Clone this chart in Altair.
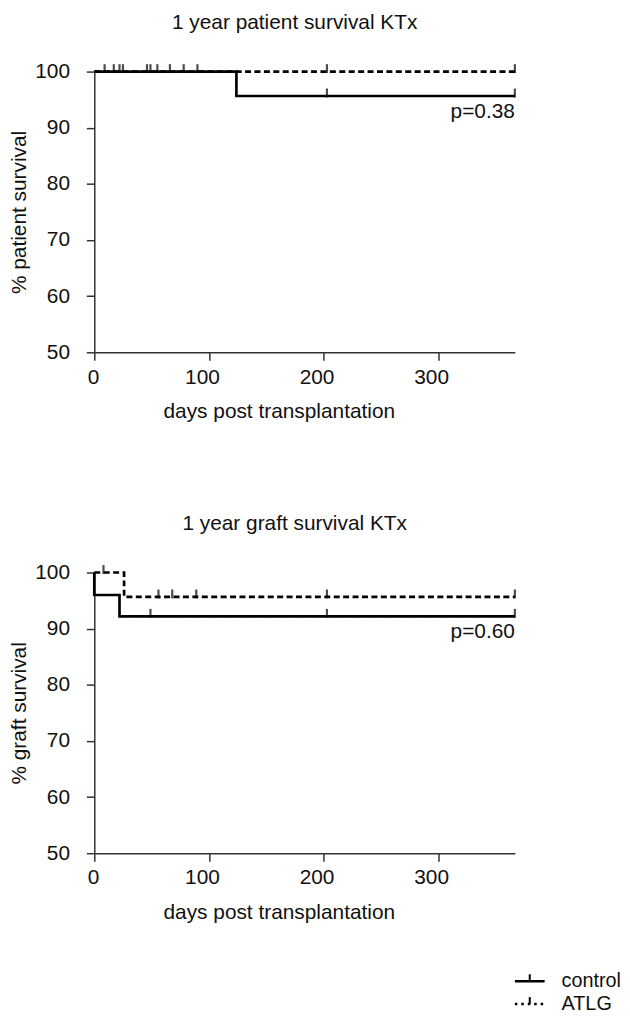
import altair as alt
import pandas as pd

FONT = "Liberation Sans"
groups = ["control", "ATLG"]

# x / y axis ticks
x_ticks = [0, 100, 200, 300]
y_ticks = [50, 60, 70, 80, 90, 100]
x_max = 367

# 1 year patient survival (Kaplan-Meier steps)
pat_control_days = [0, 124, 367]
pat_control_surv = [100, 95.65, 95.65]
pat_atlg_days = [0, 367]
pat_atlg_surv = [100, 100]
pat_control_cens = [17, 22, 46, 49, 203, 367]
pat_atlg_cens = [9, 25, 55, 66, 78, 90, 203, 367]
pat_p = "p=0.38"

# 1 year graft survival
graft_control_days = [0, 0, 22, 367]
graft_control_surv = [100, 96.0, 92.2, 92.2]
graft_atlg_days = [0, 26, 367]
graft_atlg_surv = [100, 95.65, 95.65]
graft_control_cens = [49, 203, 367]
graft_atlg_cens = [8, 56, 68, 89, 203, 367]
graft_p = "p=0.60"

W, H = 424, 283


def surv_at(days, surv, t):
    v = surv[0]
    for d, s in zip(days, surv):
        if d <= t:
            v = s
    return v


def panel(title, ytitle, cd, cs, ad, as_, cc, ac, ptext, p_y, legend=False):
    lines = []
    for g, dd, ss in (("control", cd, cs), ("ATLG", ad, as_)):
        for i, (d, s) in enumerate(zip(dd, ss)):
            lines.append({"group": g, "day": d, "surv": s, "i": i})
    cens = []
    for g, dd, ss, cl in (("control", cd, cs, cc), ("ATLG", ad, as_, ac)):
        for t in cl:
            cens.append({"group": g, "day": t, "surv": surv_at(dd, ss, t)})
    df_l = pd.DataFrame(lines)
    df_c = pd.DataFrame(cens)

    xs = alt.Scale(domain=[0, x_max], nice=False, zero=False)
    ys = alt.Scale(domain=[50, 100], nice=False, zero=False)
    xaxis = alt.Axis(values=x_ticks, title="days post transplantation",
                     labelOffset=-7, titleX=186, labelPadding=6, titlePadding=14)
    yaxis = alt.Axis(values=y_ticks, title=ytitle, labelPadding=17, titlePadding=5)

    line = alt.Chart(df_l).mark_line(
        interpolate="step-after", strokeWidth=2.7, color="black", strokeCap="butt"
    ).encode(
        x=alt.X("day:Q", scale=xs, axis=xaxis),
        y=alt.Y("surv:Q", scale=ys, axis=yaxis),
        strokeDash=alt.StrokeDash("group:N", scale=alt.Scale(domain=groups, range=[[1, 0], [6, 3.5]]), legend=None),
        detail="group:N",
        order="i:Q",
    )
    ticks = alt.Chart(df_c).mark_tick(
        orient="vertical", size=9, thickness=2.2, color="black", yOffset=-3
    ).encode(x=alt.X("day:Q", scale=xs), y=alt.Y("surv:Q", scale=ys))
    ptx = alt.Chart(pd.DataFrame({"t": [ptext]})).mark_text(
        align="right", baseline="alphabetic", fontSize=21, font=FONT, color="#111"
    ).encode(x=alt.value(W), y=alt.value(p_y), text="t:N")
    layers = [line, ticks, ptx]

    if legend:
        dashes = {"control": [1, 0], "ATLG": [2.5, 4]}
        for k, g in enumerate(groups):
            yy = 412 + 23 * k
            gdf = pd.DataFrame({"g": [g]})
            layers.append(alt.Chart(gdf).mark_rule(color="black", strokeWidth=2.4, strokeDash=dashes[g]).encode(
                x=alt.value(424), x2=alt.value(454), y=alt.value(yy)))
            layers.append(alt.Chart(gdf).mark_rule(color="black", strokeWidth=2).encode(
                x=alt.value(439), y=alt.value(yy - 7), y2=alt.value(yy)))
            layers.append(alt.Chart(gdf).mark_text(align="left", baseline="middle", fontSize=20, font=FONT, color="#111").encode(
                x=alt.value(471), y=alt.value(yy), text="g:N"))

    return alt.layer(*layers).properties(
        width=W, height=H,
        title=alt.Title(title, fontSize=21, font=FONT, fontWeight="normal", color="#111",
                        anchor="middle", frame="group", dx=-10, offset=28),
    )


top = panel("1 year patient survival KTx", "% patient survival",
            pat_control_days, pat_control_surv, pat_atlg_days, pat_atlg_surv,
            pat_control_cens, pat_atlg_cens, pat_p, 47)
bottom = panel("1 year graft survival KTx", "% graft survival",
               graft_control_days, graft_control_surv, graft_atlg_days, graft_atlg_surv,
               graft_control_cens, graft_atlg_cens, graft_p, 66, legend=True)

chart = alt.vconcat(top, bottom, spacing=92).properties(padding=0).configure_view(
    stroke=None
).configure_axis(
    grid=False, domainColor="#333", domainWidth=1.5, tickColor="#333", tickWidth=1.5,
    tickSize=8, labelFont=FONT, titleFont=FONT, labelFontSize=21, titleFontSize=21,
    labelColor="#111", titleColor="#111", titleFontWeight="normal",
)

chart.save("out.html", embed_options={"renderer": "svg", "actions": False})
